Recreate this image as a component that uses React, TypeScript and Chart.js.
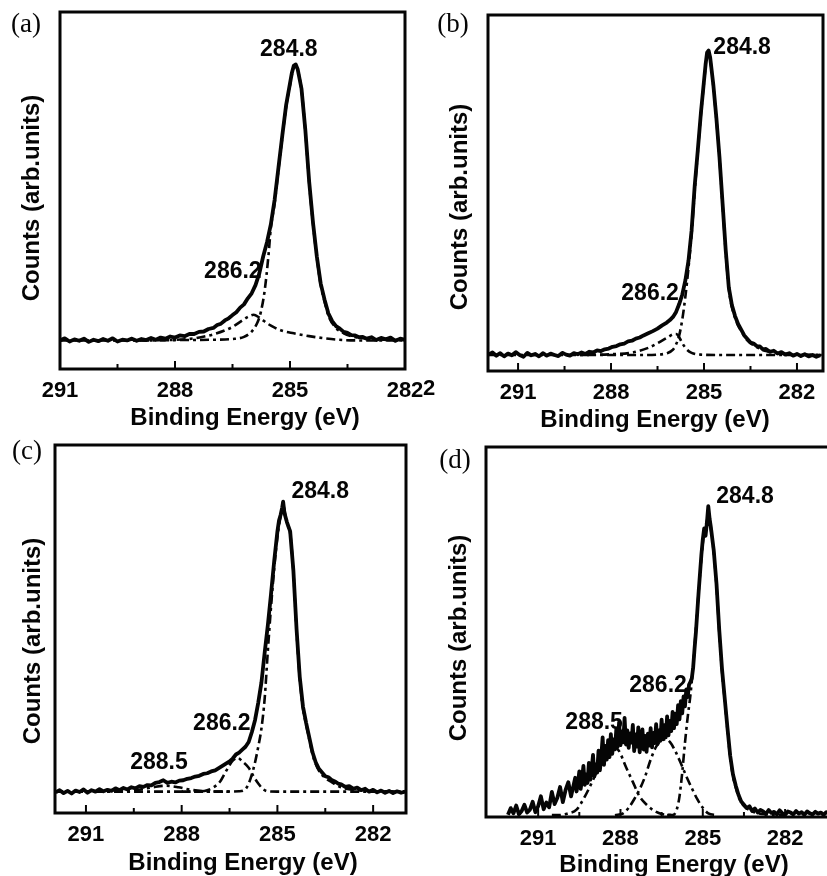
import React, { useEffect, useRef } from 'react';
import { Chart, registerables } from 'chart.js';

Chart.register(...registerables);

// ---------------- shared axis content ----------------
const tickValues = [291, 289.5, 288, 286.5, 285, 283.5, 282];
const majorTickValues = [291, 288, 285, 282];
const xAxisTitle = 'Binding Energy (eV)';
const yAxisTitle = 'Counts (arb.units)';

// ---------------- panel (a) ----------------
const aEnergy = [291.0, 290.875, 290.75, 290.625, 290.5, 290.375, 290.25, 290.125, 290.0, 289.875, 289.75, 289.625, 289.5, 289.375, 289.25, 289.125, 289.0, 288.875, 288.75, 288.625, 288.5, 288.375, 288.25, 288.125, 288.0, 287.875, 287.75, 287.625, 287.5, 287.375, 287.25, 287.125, 287.0, 286.9, 286.8, 286.7, 286.6, 286.5, 286.4, 286.3, 286.2, 286.1, 286.0, 285.9, 285.8, 285.7, 285.6, 285.5, 285.4, 285.3, 285.2, 285.1, 285.0, 284.95, 284.9, 284.85, 284.8, 284.7, 284.6, 284.5, 284.4, 284.3, 284.2, 284.1, 284.0, 283.9, 283.8, 283.7, 283.6, 283.5, 283.4, 283.3, 283.2, 283.1, 283.0, 282.875, 282.75, 282.625, 282.5, 282.375, 282.25, 282.125, 282.0];
const aCounts = [8.0, 8.6, 7.7, 8.3, 7.9, 8.5, 7.6, 8.2, 7.8, 8.4, 7.9, 8.6, 7.7, 8.2, 8.0, 8.5, 7.9, 8.4, 8.1, 8.7, 8.2, 8.8, 8.5, 9.1, 8.8, 9.4, 9.2, 9.8, 9.8, 10.4, 10.5, 11.2, 11.5, 12.3, 12.7, 13.6, 14.2, 15.1, 15.9, 17.2, 18.1, 19.8, 21.2, 23.5, 26.8, 31.5, 35.5, 40.5, 47.5, 56.5, 65.5, 74.0, 80.0, 83.0, 85.0, 85.3, 84.0, 78.5, 67.0, 52.5, 41.0, 31.5, 24.0, 19.5, 15.6, 13.4, 12.0, 11.3, 10.4, 10.1, 9.5, 9.4, 8.9, 9.0, 8.5, 8.9, 8.1, 8.7, 8.3, 8.8, 7.9, 8.5, 8.2];
const aFitMainEnergy = [291.0, 289.0, 288.0, 287.0, 286.5, 286.2, 286.0, 285.85, 285.76, 285.66, 285.56, 285.5, 285.4, 285.3, 285.2, 285.1, 285.0, 284.9, 284.85, 284.8, 284.7, 284.6, 284.5, 284.4, 284.3, 284.2, 284.1, 284.0, 283.8, 283.6, 283.4, 283.0, 282.5, 282.0];
const aFitMain = [8.0, 8.0, 8.1, 8.2, 8.4, 9.0, 10.5, 13.0, 16.0, 22.0, 32.0, 39.5, 46.5, 56.0, 65.0, 73.5, 79.5, 84.6, 84.9, 83.7, 78.2, 66.7, 52.2, 40.7, 31.2, 23.6, 19.0, 15.0, 11.5, 10.0, 9.2, 8.5, 8.2, 8.1];
const aFit2Energy = [289.0, 288.2, 287.5, 287.0, 286.7, 286.5, 286.3, 286.1, 285.95, 285.8, 285.6, 285.4, 285.2, 284.9, 284.5, 284.1, 283.6, 283.0, 282.0];
const aFit2 = [8.0, 8.1, 8.6, 9.7, 10.8, 11.8, 13.2, 14.6, 15.2, 14.4, 12.8, 11.6, 10.7, 10.0, 9.2, 8.6, 8.1, 8.0, 8.0];

// ---------------- panel (b) ----------------
const bEnergy = [291.95, 291.825, 291.7, 291.575, 291.45, 291.325, 291.2, 291.075, 290.95, 290.825, 290.7, 290.575, 290.45, 290.325, 290.2, 290.075, 289.95, 289.825, 289.7, 289.575, 289.45, 289.325, 289.2, 289.075, 288.95, 288.825, 288.7, 288.575, 288.45, 288.325, 288.2, 288.075, 287.95, 287.825, 287.7, 287.575, 287.45, 287.325, 287.2, 287.075, 286.95, 286.8, 286.65, 286.5, 286.35, 286.2, 286.1, 286.0, 285.9, 285.8, 285.7, 285.6, 285.5, 285.4, 285.3, 285.2, 285.1, 285.0, 284.95, 284.9, 284.85, 284.8, 284.7, 284.6, 284.5, 284.4, 284.3, 284.2, 284.1, 284.0, 283.9, 283.8, 283.7, 283.6, 283.5, 283.4, 283.3, 283.2, 283.1, 283.0, 282.875, 282.75, 282.625, 282.5, 282.375, 282.25, 282.125, 282.0, 281.875, 281.75, 281.625, 281.5, 281.375, 281.25];
const bCounts = [4.6, 5.2, 4.3, 5.0, 4.1, 4.9, 4.4, 5.3, 4.5, 4.0, 5.1, 4.4, 4.8, 4.1, 5.0, 4.3, 4.9, 4.5, 4.2, 5.1, 4.6, 4.3, 5.0, 4.7, 5.2, 4.8, 5.4, 5.2, 5.8, 5.6, 6.1, 6.3, 6.8, 7.0, 7.5, 7.7, 8.3, 8.5, 9.1, 9.4, 10.0, 10.6, 11.2, 11.9, 12.8, 13.6, 14.3, 15.2, 16.6, 18.8, 21.5, 25.5, 31.0, 39.5, 52.0, 62.0, 72.5, 81.5, 86.0, 89.5, 90.0, 88.0, 80.5, 71.0, 60.0, 47.0, 34.0, 23.5, 18.5, 15.5, 13.2, 11.6, 10.0, 9.0, 8.0, 7.7, 7.0, 6.9, 6.1, 6.2, 5.4, 5.7, 4.9, 5.3, 4.6, 5.0, 4.3, 4.8, 4.2, 4.7, 4.1, 4.5, 4.0, 4.4];
const bFitMainEnergy = [292.0, 288.0, 287.0, 286.5, 286.2, 286.0, 285.9, 285.8, 285.7, 285.6, 285.5, 285.4, 285.3, 285.2, 285.1, 285.0, 284.9, 284.85, 284.8, 284.7, 284.6, 284.5, 284.4, 284.3, 284.2, 284.1, 284.0, 283.9, 283.8, 283.6, 283.4, 283.2, 283.0, 282.5, 281.2];
const bFitMain = [4.5, 4.5, 4.5, 4.6, 5.0, 6.0, 7.5, 10.0, 14.5, 21.0, 29.0, 38.5, 50.5, 61.5, 72.0, 81.0, 89.0, 89.6, 87.6, 80.0, 70.6, 59.6, 46.6, 33.6, 23.2, 18.0, 15.0, 12.8, 11.2, 8.6, 7.2, 6.3, 5.6, 4.9, 4.5];
const bFit2Energy = [289.0, 288.0, 287.3, 286.8, 286.5, 286.2, 286.0, 285.9, 285.8, 285.7, 285.55, 285.4, 285.1, 284.5, 283.0, 281.2];
const bFit2 = [4.5, 4.7, 5.2, 6.5, 7.8, 9.3, 10.3, 10.4, 9.5, 7.8, 6.0, 5.1, 4.6, 4.5, 4.5, 4.5];

// ---------------- panel (c) ----------------
const cEnergy = [291.95, 291.825, 291.7, 291.575, 291.45, 291.325, 291.2, 291.075, 290.95, 290.825, 290.7, 290.575, 290.45, 290.325, 290.2, 290.075, 289.95, 289.825, 289.7, 289.575, 289.45, 289.325, 289.2, 289.075, 288.95, 288.825, 288.7, 288.575, 288.45, 288.325, 288.2, 288.075, 287.95, 287.825, 287.7, 287.575, 287.45, 287.325, 287.2, 287.075, 286.95, 286.8, 286.65, 286.5, 286.4, 286.3, 286.2, 286.1, 286.0, 285.9, 285.8, 285.7, 285.6, 285.5, 285.4, 285.3, 285.2, 285.1, 285.0, 284.95, 284.9, 284.85, 284.82, 284.78, 284.7, 284.6, 284.5, 284.4, 284.3, 284.2, 284.1, 284.0, 283.9, 283.8, 283.7, 283.6, 283.5, 283.4, 283.3, 283.2, 283.1, 283.0, 282.875, 282.75, 282.625, 282.5, 282.375, 282.25, 282.125, 282.0, 281.875, 281.75, 281.625, 281.5, 281.375, 281.25, 281.125, 281.0];
const cCounts = [5.6, 6.2, 5.4, 6.0, 5.3, 6.1, 5.7, 6.4, 5.5, 6.2, 5.8, 6.5, 5.9, 6.3, 6.0, 6.7, 6.2, 6.8, 6.4, 7.0, 6.7, 7.3, 7.1, 7.6, 7.5, 8.2, 8.4, 8.9, 8.2, 8.5, 8.3, 8.8, 8.9, 9.3, 9.5, 9.9, 10.1, 10.6, 10.8, 11.3, 11.6, 12.4, 13.2, 14.0, 14.8, 15.9, 16.4, 17.2, 18.0, 19.3, 22.0, 25.3, 30.0, 35.5, 43.5, 51.0, 59.5, 68.5, 76.5, 79.5, 81.0, 83.0, 84.6, 81.5, 79.0, 76.5, 66.0, 50.0, 37.0, 29.0, 24.5, 20.5, 16.5, 13.8, 12.0, 11.0, 10.0, 9.7, 9.0, 8.6, 8.0, 7.8, 7.1, 7.3, 6.6, 6.9, 6.2, 6.6, 5.8, 6.3, 5.6, 6.1, 5.5, 6.0, 5.4, 5.9, 5.5, 5.8];
const cFitMainEnergy = [292.0, 287.0, 286.2, 286.0, 285.9, 285.8, 285.7, 285.6, 285.5, 285.4, 285.3, 285.2, 285.1, 285.0, 284.9, 284.82, 284.7, 284.6, 284.5, 284.4, 284.3, 284.2, 284.1, 284.0, 283.9, 283.8, 283.7, 283.5, 283.3, 283.0, 282.5, 281.0];
const cFitMain = [5.8, 5.8, 5.9, 6.5, 8.0, 10.5, 13.8, 18.0, 23.0, 31.0, 44.0, 56.0, 66.5, 75.0, 80.5, 83.5, 78.5, 76.0, 65.5, 49.5, 36.5, 28.5, 24.0, 20.0, 16.0, 13.3, 11.5, 9.5, 8.4, 7.0, 6.2, 5.8];
const cFit2Energy = [288.0, 287.6, 287.2, 287.0, 286.8, 286.6, 286.4, 286.25, 286.1, 285.9, 285.75, 285.6, 285.45, 285.3, 285.0, 284.0, 281.0];
const cFit2 = [5.8, 5.8, 6.2, 7.0, 8.5, 11.5, 14.2, 15.0, 14.0, 12.3, 10.0, 8.0, 6.5, 5.9, 5.8, 5.8, 5.8];
const cFit3Energy = [292.0, 291.0, 290.0, 289.3, 288.9, 288.5, 288.1, 287.7, 287.2, 286.5];
const cFit3 = [5.8, 5.8, 5.9, 6.4, 7.0, 7.4, 7.0, 6.3, 5.9, 5.8];

// ---------------- panel (d) ----------------
const dEnergy = [292.1, 292.0, 291.9, 291.8, 291.7, 291.6, 291.5, 291.4, 291.3, 291.2, 291.1, 291.0, 290.9, 290.8, 290.7, 290.6, 290.5, 290.4, 290.3, 290.2, 290.1, 290.0, 289.9, 289.8, 289.7,
  289.65, 289.6, 289.55, 289.5, 289.45, 289.4, 289.35, 289.3, 289.25, 289.2, 289.15, 289.1, 289.05, 289.0, 288.95, 288.9, 288.85, 288.8, 288.75, 288.7, 288.65, 288.6, 288.55, 288.5, 288.45, 288.4, 288.35, 288.3, 288.25, 288.2, 288.15, 288.1, 288.05, 288.0,
  287.95, 287.9, 287.85, 287.8, 287.75, 287.7, 287.65, 287.6, 287.55, 287.5, 287.45, 287.4, 287.35, 287.3, 287.25, 287.2, 287.15, 287.1, 287.05, 287.0,
  286.95, 286.9, 286.85, 286.8, 286.75, 286.7, 286.65, 286.6, 286.55, 286.5, 286.45, 286.4, 286.35, 286.3, 286.25, 286.2, 286.15, 286.1, 286.05, 286.0,
  285.95, 285.9, 285.85, 285.8, 285.75, 285.7, 285.65, 285.6, 285.55, 285.5, 285.45, 285.4, 285.35, 285.3, 285.25, 285.2, 285.15, 285.1, 285.05, 285.0,
  284.95, 284.9, 284.85, 284.8, 284.75, 284.7, 284.6, 284.5, 284.4, 284.3, 284.2, 284.1, 284.0, 283.9, 283.8, 283.7, 283.6, 283.5, 283.4, 283.3, 283.2, 283.1, 283.0,
  282.9, 282.8, 282.7, 282.6, 282.5, 282.4, 282.3, 282.2, 282.1, 282.0, 281.9, 281.8, 281.7, 281.6, 281.5, 281.4, 281.3, 281.2, 281.1, 281.0, 280.9, 280.8, 280.7, 280.6, 280.5, 280.4];
const dCounts = [0.6, 2.4, 1.0, 3.1, 0.7, 1.6, 3.3, 1.2, 2.0, 4.1, 1.3, 2.9, 5.6, 2.1, 3.9, 2.6, 6.8, 3.5, 5.2, 8.1, 4.0, 7.3, 9.4, 5.6, 8.9,
  10.6, 6.9, 9.1, 12.3, 7.6, 10.2, 13.8, 8.7, 11.5, 9.2, 14.6, 10.1, 12.9, 16.8, 11.0, 14.2, 12.0, 17.9, 12.6, 16.3, 21.5, 14.1, 19.2, 15.5, 20.8, 16.2, 22.4, 17.1, 21.0, 18.3, 23.9, 19.0, 25.6, 19.4,
  23.1, 20.2, 26.8, 19.6, 23.4, 18.7, 22.6, 20.1, 24.9, 17.8, 22.3, 19.0, 24.2, 17.5, 20.6, 23.7, 18.2, 21.9, 17.6, 22.5,
  19.3, 24.0, 18.8, 22.7, 20.0, 25.1, 19.7, 23.4, 20.6, 26.3, 21.0, 24.8, 21.5, 27.2, 22.1, 26.0, 23.2, 28.4, 24.0, 27.9,
  25.1, 30.2, 26.4, 31.3, 28.0, 32.6, 29.9, 34.5, 32.4, 35.8, 36.5, 37.5, 40.5, 45.5, 50.0, 55.5, 61.0, 66.0, 71.0, 75.0,
  78.0, 76.0, 79.5, 84.0, 80.5, 78.0, 72.0, 63.0, 50.5, 40.0, 32.0, 24.0, 16.5, 11.5, 8.5, 6.0, 4.2, 3.3, 2.4, 2.9, 1.6, 2.3, 1.2,
  1.9, 1.5, 0.8, 1.9, 1.1, 1.4, 0.7, 1.8, 1.0, 0.6, 1.5, 1.2, 0.7, 1.6, 0.9, 1.3, 0.6, 1.5, 1.0, 0.7, 1.4, 0.9, 1.2, 0.6, 1.3, 0.9];
const dFitMainEnergy = [286.3, 286.1, 285.95, 285.85, 285.75, 285.65, 285.55, 285.45, 285.35, 285.25, 285.15, 285.05, 284.95, 284.85, 284.8, 284.7, 284.6, 284.5, 284.4, 284.3, 284.2, 284.1, 284.0, 283.9, 283.8, 283.7, 283.5, 283.2, 282.8, 282.0];
const dFitMain = [0.5, 0.5, 2.0, 5.5, 12.0, 20.0, 27.0, 33.0, 41.0, 51.0, 61.0, 70.0, 77.0, 80.0, 81.5, 77.5, 71.5, 62.5, 50.0, 39.5, 31.5, 23.5, 16.0, 11.0, 8.0, 5.5, 3.0, 1.5, 0.8, 0.5];
const dFit2Energy = [288.2, 287.9, 287.7, 287.5, 287.3, 287.1, 286.9, 286.7, 286.5, 286.35, 286.2, 286.0, 285.8, 285.6, 285.4, 285.2, 285.0, 284.8, 284.5];
const dFit2 = [0.5, 1.0, 2.5, 4.8, 7.5, 11.0, 15.5, 19.0, 20.8, 21.0, 20.3, 17.8, 14.5, 11.0, 7.8, 4.8, 2.5, 1.0, 0.5];
const dFit3Energy = [290.5, 290.3, 289.9, 289.6, 289.3, 289.0, 288.7, 288.45, 288.25, 288.05, 287.8, 287.55, 287.3, 287.0, 286.8, 286.5, 286.0];
const dFit3 = [0.5, 0.5, 1.0, 2.0, 5.5, 10.0, 15.0, 18.5, 19.0, 17.8, 13.5, 9.5, 5.5, 3.0, 1.8, 0.8, 0.5];

// ---------------- styling & layout ----------------
const INK = '#050505';
const SANS = '"Liberation Sans", Arial, Helvetica, sans-serif';
const SERIF = '"Liberation Serif", "Times New Roman", Times, serif';
const DASH_DOT = [9, 4, 3, 4];

type Series = { energy: number[]; values: number[]; fit: boolean };
type PeakLabel = { text: string; e: number; i: number };
type Pt = [number, number];
type PanelCfg = {
  id: string;
  label: string;
  canvas: { left: number; top: number; width: number; height: number };
  area: { l: number; r: number; t: number; b: number };
  xMin: number;
  xMax: number;
  series: Series[];
  peaks: PeakLabel[];
  labelPos: Pt;
  yTitlePos: Pt;
  xTitlePos: Pt;
  stray?: { text: string; pos: Pt };
};

const panels: PanelCfg[] = [
  {
    id: 'a', label: '(a)',
    canvas: { left: 0, top: 0, width: 440, height: 438 },
    area: { l: 60, r: 405, t: 12, b: 369 },
    xMin: 282, xMax: 291,
    series: [
      { energy: aFitMainEnergy, values: aFitMain, fit: true },
      { energy: aFit2Energy, values: aFit2, fit: true },
      { energy: aEnergy, values: aCounts, fit: false },
    ],
    peaks: [
      { text: '284.8', e: 285.03, i: 89.4 },
      { text: '286.2', e: 286.49, i: 27.2 },
    ],
    labelPos: [26, 25], yTitlePos: [32, 198], xTitlePos: [245, 425],
    stray: { text: '2', pos: [429, 389] },
  },
  {
    id: 'b', label: '(b)',
    canvas: { left: 413, top: 0, width: 414, height: 438 },
    area: { l: 488, r: 823, t: 15, b: 371 },
    xMin: 281.16, xMax: 291.97,
    series: [
      { energy: bFitMainEnergy, values: bFitMain, fit: true },
      { energy: bFit2Energy, values: bFit2, fit: true },
      { energy: bEnergy, values: bCounts, fit: false },
    ],
    peaks: [
      { text: '284.8', e: 283.77, i: 90.7 },
      { text: '286.2', e: 286.74, i: 21.6 },
    ],
    labelPos: [453, 25], yTitlePos: [460, 207], xTitlePos: [655, 427],
  },
  {
    id: 'c', label: '(c)',
    canvas: { left: 0, top: 438, width: 440, height: 438 },
    area: { l: 55, r: 406, t: 445, b: 813 },
    xMin: 280.97, xMax: 291.97,
    series: [
      { energy: cFitMainEnergy, values: cFitMain, fit: true },
      { energy: cFit2Energy, values: cFit2, fit: true },
      { energy: cFit3Energy, values: cFit3, fit: true },
      { energy: cEnergy, values: cCounts, fit: false },
    ],
    peaks: [
      { text: '284.8', e: 283.66, i: 87.2 },
      { text: '286.2', e: 286.74, i: 24.2 },
      { text: '288.5', e: 288.71, i: 13.6 },
    ],
    labelPos: [27, 452], yTitlePos: [33, 641], xTitlePos: [243, 870],
  },
  {
    id: 'd', label: '(d)',
    canvas: { left: 413, top: 438, width: 440, height: 438 },
    area: { l: 486, r: 840, t: 447, b: 817 },
    xMin: 280.0, xMax: 292.9,
    series: [
      { energy: dFitMainEnergy, values: dFitMain, fit: true },
      { energy: dFit2Energy, values: dFit2, fit: true },
      { energy: dFit3Energy, values: dFit3, fit: true },
      { energy: dEnergy, values: dCounts, fit: false },
    ],
    peaks: [
      { text: '284.8', e: 283.46, i: 86.5 },
      { text: '286.2', e: 286.63, i: 35.4 },
      { text: '288.5', e: 288.96, i: 25.4 },
    ],
    labelPos: [455, 461], yTitlePos: [459, 638], xTitlePos: [674, 872],
  },
];

const isMajor = (v: number) => majorTickValues.some((m) => Math.abs(m - v) < 1e-6);

function makeDecor(cfg: PanelCfg) {
  const ox = cfg.canvas.left;
  const oy = cfg.canvas.top;
  return {
    id: 'decor-' + cfg.id,
    afterDraw(chart: any) {
      const { ctx, chartArea: a } = chart;
      const xs = chart.scales.x;
      const ys = chart.scales.y;
      ctx.save();
      // frame
      ctx.strokeStyle = INK;
      ctx.lineWidth = 3;
      ctx.strokeRect(a.left, a.top, a.right - a.left, a.bottom - a.top);
      // inward tick marks
      ctx.lineWidth = 2;
      for (const v of tickValues) {
        const px = xs.getPixelForValue(v);
        if (px <= a.left + 2 || px >= a.right - 2) continue;
        const len = isMajor(v) ? 8 : 5;
        ctx.beginPath();
        ctx.moveTo(px, a.bottom);
        ctx.lineTo(px, a.bottom - len);
        ctx.stroke();
      }
      ctx.fillStyle = INK;
      // peak labels
      ctx.font = 'bold 23px ' + SANS;
      ctx.textAlign = 'center';
      ctx.textBaseline = 'middle';
      for (const p of cfg.peaks) {
        ctx.fillText(p.text, xs.getPixelForValue(p.e), ys.getPixelForValue(p.i));
      }
      // x title
      ctx.font = 'bold 24px ' + SANS;
      ctx.textBaseline = 'alphabetic';
      ctx.fillText(xAxisTitle, cfg.xTitlePos[0] - ox, cfg.xTitlePos[1] - oy);
      // y title
      ctx.save();
      ctx.translate(cfg.yTitlePos[0] - ox, cfg.yTitlePos[1] - oy);
      ctx.rotate(-Math.PI / 2);
      ctx.textBaseline = 'middle';
      ctx.fillText(yAxisTitle, 0, 0);
      ctx.restore();
      // panel label
      ctx.font = '27px ' + SERIF;
      ctx.textBaseline = 'middle';
      ctx.fillText(cfg.label, cfg.labelPos[0] - ox, cfg.labelPos[1] - oy);
      // stray glyph present in the source figure
      if (cfg.stray) {
        ctx.font = 'bold 22px ' + SANS;
        ctx.fillText(cfg.stray.text, cfg.stray.pos[0] - ox, cfg.stray.pos[1] - oy);
      }
      ctx.restore();
    },
  };
}

function Panel({ cfg }: { cfg: PanelCfg }) {
  const ref = useRef<HTMLCanvasElement | null>(null);
  useEffect(() => {
    const canvas = ref.current;
    if (!canvas) return;
    const padLeft = cfg.area.l - cfg.canvas.left;
    const padTop = cfg.area.t - cfg.canvas.top;
    const padRight = cfg.canvas.left + cfg.canvas.width - cfg.area.r;
    const axisH = cfg.canvas.top + cfg.canvas.height - cfg.area.b;
    const chart = new Chart(canvas, {
      type: 'line',
      data: {
        datasets: cfg.series.map((s) => ({
          data: s.energy.map((e, k) => ({ x: e, y: s.values[k] })),
          borderColor: INK,
          backgroundColor: INK,
          borderWidth: s.fit ? 2.6 : 3.8,
          borderDash: s.fit ? DASH_DOT : [],
          pointRadius: 0,
          fill: false,
          tension: 0,
          cubicInterpolationMode: s.fit ? 'monotone' : 'default',
          borderJoinStyle: 'round',
          order: s.fit ? 1 : 0,
        })),
      } as any,
      options: {
        responsive: false,
        animation: false,
        devicePixelRatio: 1,
        events: [],
        layout: { padding: { left: padLeft, top: padTop, right: padRight, bottom: 0 } },
        plugins: { legend: { display: false }, tooltip: { enabled: false }, title: { display: false } },
        scales: {
          x: {
            type: 'linear',
            reverse: true,
            min: cfg.xMin,
            max: cfg.xMax,
            afterBuildTicks: (scale: any) => {
              scale.ticks = tickValues.map((v) => ({ value: v }));
            },
            afterFit: (scale: any) => {
              scale.height = axisH;
              scale.paddingLeft = 0;
              scale.paddingRight = 0;
            },
            grid: { display: false },
            border: { display: false },
            ticks: {
              autoSkip: false,
              maxRotation: 0,
              minRotation: 0,
              padding: 1,
              color: INK,
              font: { family: SANS, size: 22, weight: 'bold' },
              callback: (value: any) => (isMajor(Number(value)) ? String(value) : ''),
            },
          },
          y: { type: 'linear', display: false, min: 0, max: 100 },
        },
      } as any,
      plugins: [makeDecor(cfg)],
    });
    return () => chart.destroy();
  }, [cfg]);
  return (
    <canvas
      ref={ref}
      width={cfg.canvas.width}
      height={cfg.canvas.height}
      style={{ position: 'absolute', left: cfg.canvas.left, top: cfg.canvas.top, width: cfg.canvas.width, height: cfg.canvas.height }}
    />
  );
}

export default function App() {
  return (
    <div style={{ position: 'fixed', left: 0, top: 0, width: 827, height: 876, overflow: 'hidden', background: '#ffffff' }}>
      {panels.map((p) => (
        <Panel key={p.id} cfg={p} />
      ))}
    </div>
  );
}
